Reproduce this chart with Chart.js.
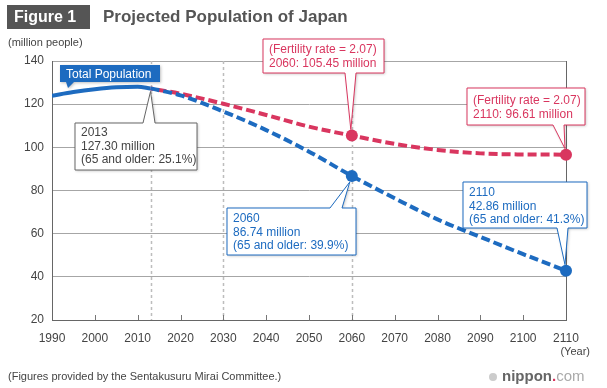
<!DOCTYPE html>
<html>
<head>
<meta charset="utf-8">
<script src="https://cdn.jsdelivr.net/npm/chart.js@4/dist/chart.umd.min.js"></script>
<style>
  html, body { margin: 0; padding: 0; background: #fff; }
  #wrap { width: 607px; height: 388px; position: relative; }
</style>
</head>
<body>
<div id="wrap"><canvas id="myChart" width="607" height="388"></canvas></div>
<script>
// data (million people)
var obsYears = [1990, 1995, 2000, 2005, 2010, 2013];
var obsPop = [123.9, 125.6, 126.9, 127.8, 128.1, 127.30];
var projYears = [2013, 2020, 2030, 2040, 2050, 2060, 2070, 2080, 2090, 2100, 2110];
var projBase = [127.30, 124.1, 116.6, 108.0, 98.0, 86.74, 76.4, 66.6, 58.5, 50.5, 42.86];
var projFert = [127.30, 124.8, 120.2, 115.0, 109.6, 105.45, 101.6, 98.8, 97.2, 96.7, 96.61];
var markedYears = [2013, 2030, 2060];
var yTicks = [20, 40, 60, 80, 100, 120, 140];

var BLUE = '#1d6bc0';
var RED = '#d9365f';
var FONT = '"Liberation Sans", Arial, sans-serif';

function pts(xs, ys) {
    var out = [];
    for (var i = 0; i < xs.length; i++) {
        out.push({x: xs[i], y: ys[i]});
    }
    return out;
}

function dotRadius(c) {
    if (c.raw && (c.raw.x === 2060 || c.raw.x === 2110)) return 6;
    return 0;
}

// callout box with a pointer tail
function callout(ctx, b, o) {
    ctx.save();
    ctx.beginPath();
    if (o.side === 'top') {
        ctx.moveTo(b.l, b.t);
        ctx.lineTo(o.t1, b.t);
        ctx.lineTo(o.tip.x, o.tip.y);
        ctx.lineTo(o.t2, b.t);
        ctx.lineTo(b.r, b.t);
        ctx.lineTo(b.r, b.b);
        ctx.lineTo(b.l, b.b);
    } else {
        ctx.moveTo(b.l, b.t);
        ctx.lineTo(b.r, b.t);
        ctx.lineTo(b.r, b.b);
        ctx.lineTo(o.t2, b.b);
        ctx.lineTo(o.tip.x, o.tip.y);
        ctx.lineTo(o.t1, b.b);
        ctx.lineTo(b.l, b.b);
    }
    ctx.closePath();
    ctx.shadowColor = 'rgba(0,0,0,0.25)';
    ctx.shadowBlur = 3;
    ctx.shadowOffsetX = 1;
    ctx.shadowOffsetY = 1;
    ctx.fillStyle = o.fill || '#fff';
    ctx.fill();
    ctx.shadowColor = 'transparent';
    if (o.stroke) {
        ctx.strokeStyle = o.stroke;
        ctx.lineWidth = 1;
        ctx.stroke();
    }
    ctx.fillStyle = o.color;
    ctx.font = (o.bold ? 'bold ' : '') + (o.size || 12) + 'px ' + FONT;
    ctx.textBaseline = 'alphabetic';
    ctx.textAlign = 'left';
    for (var i = 0; i < o.lines.length; i++) {
        ctx.fillText(o.lines[i], b.l + 6, b.t + o.first + i * 13.5);
    }
    ctx.restore();
}

var decor = {
    id: 'decor',
    beforeDatasetsDraw: function(chart) {
        var ctx = chart.ctx, xs = chart.scales.x, a = chart.chartArea;
        ctx.save();
        // dotted year markers
        ctx.strokeStyle = '#bdbdbd';
        ctx.lineWidth = 1.5;
        ctx.setLineDash([3, 3]);
        markedYears.forEach(function(yr) {
            var px = Math.round(xs.getPixelForValue(yr)) + 0.5;
            ctx.beginPath();
            ctx.moveTo(px, a.top);
            ctx.lineTo(px, a.bottom);
            ctx.stroke();
        });
        ctx.setLineDash([]);
        // inner tick marks
        ctx.strokeStyle = '#777';
        ctx.lineWidth = 1;
        for (var yr = 2000; yr <= 2100; yr += 10) {
            var p = Math.round(xs.getPixelForValue(yr)) + 0.5;
            ctx.beginPath();
            ctx.moveTo(p, a.bottom);
            ctx.lineTo(p, a.bottom - 5);
            ctx.stroke();
        }
        ctx.restore();
    },
    afterDatasetsDraw: function(chart) {
        var ctx = chart.ctx, xs = chart.scales.x, ys = chart.scales.y;
        function P(x, y) { return {x: xs.getPixelForValue(x), y: ys.getPixelForValue(y)}; }

        var p13 = P(2013, 127.30);
        callout(ctx, {l: 75, t: 123, r: 197, b: 170},
            {side: 'top', t1: 143, t2: 155, tip: {x: p13.x, y: p13.y + 3}, stroke: '#666',
             color: '#444', first: 13, lines: ['2013', '127.30 million', '(65 and older: 25.1%)']});

        var pr60 = P(2060, 105.45);
        callout(ctx, {l: 263, t: 39, r: 384, b: 73},
            {side: 'bottom', t1: 345, t2: 356, tip: {x: pr60.x - 1, y: pr60.y - 6}, stroke: RED,
             color: RED, first: 14, lines: ['(Fertility rate = 2.07)', '2060: 105.45 million']});

        var pr110 = P(2110, 96.61);
        callout(ctx, {l: 467, t: 88, r: 585, b: 125},
            {side: 'bottom', t1: 553, t2: 564, tip: {x: pr110.x - 1, y: pr110.y - 6}, stroke: RED,
             color: RED, first: 16, lines: ['(Fertility rate = 2.07)', '2110: 96.61 million']});

        var pb60 = P(2060, 86.74);
        callout(ctx, {l: 227, t: 208, r: 356, b: 255},
            {side: 'top', t1: 330, t2: 342, tip: {x: pb60.x - 2, y: pb60.y + 6}, stroke: BLUE,
             color: BLUE, first: 14, lines: ['2060', '86.74 million', '(65 and older: 39.9%)']});

        var pb110 = P(2110, 42.86);
        callout(ctx, {l: 463, t: 182, r: 587, b: 228},
            {side: 'bottom', t1: 557, t2: 568, tip: {x: pb110.x - 1, y: pb110.y - 6}, stroke: BLUE,
             color: BLUE, first: 14, lines: ['2110', '42.86 million', '(65 and older: 41.3%)']});

        callout(ctx, {l: 60, t: 65, r: 160, b: 82},
            {side: 'bottom', t1: 66, t2: 74, tip: {x: 68, y: 88}, fill: BLUE,
             color: '#fff', first: 13, lines: ['Total Population']});
    },
    afterDraw: function(chart) {
        var ctx = chart.ctx;
        ctx.save();
        // figure tag + title
        ctx.fillStyle = '#555';
        ctx.fillRect(7, 5, 83, 24);
        ctx.fillStyle = '#fff';
        ctx.font = 'bold 16px ' + FONT;
        ctx.textBaseline = 'middle';
        ctx.fillText('Figure 1', 14, 17.5);
        ctx.fillStyle = '#555';
        ctx.font = 'bold 17px ' + FONT;
        ctx.fillText('Projected Population of Japan', 103, 17.5);

        ctx.fillStyle = '#444';
        ctx.font = '11px ' + FONT;
        ctx.fillText('(million people)', 8, 43);
        ctx.fillText('(Figures provided by the Sentakusuru Mirai Committee.)', 8, 377);
        ctx.textAlign = 'right';
        ctx.fillText('(Year)', 590, 352);

        // nippon.com logo
        ctx.textAlign = 'left';
        ctx.fillStyle = '#ccc';
        ctx.beginPath();
        ctx.arc(493, 377, 4, 0, Math.PI * 2);
        ctx.fill();
        ctx.font = 'bold 15px ' + FONT;
        ctx.fillStyle = '#666';
        ctx.fillText('nippon', 502, 377);
        var w = ctx.measureText('nippon').width;
        ctx.fillStyle = RED;
        ctx.fillText('.', 502 + w, 377);
        var w2 = ctx.measureText('.').width;
        ctx.font = '15px ' + FONT;
        ctx.fillStyle = '#aaa';
        ctx.fillText('com', 502 + w + w2, 377);
        ctx.restore();
    }
};

var ctx = document.getElementById('myChart');
var myChart = new Chart(ctx, {
    type: 'line',
    data: {
        datasets: [
            {
                label: 'Total Population',
                data: pts(obsYears, obsPop),
                borderColor: BLUE,
                borderWidth: 4,
                pointRadius: 0,
                fill: false,
                cubicInterpolationMode: 'monotone'
            },
            {
                label: 'Projection',
                data: pts(projYears, projBase),
                borderColor: BLUE,
                backgroundColor: BLUE,
                borderWidth: 4,
                borderDash: [9, 4],
                pointRadius: dotRadius,
                pointBorderWidth: 0,
                fill: false,
                clip: false,
                cubicInterpolationMode: 'monotone'
            },
            {
                label: 'Fertility rate = 2.07',
                data: pts(projYears, projFert),
                borderColor: RED,
                backgroundColor: RED,
                borderWidth: 4,
                borderDash: [9, 4],
                borderDashOffset: 6,
                pointRadius: dotRadius,
                pointBorderWidth: 0,
                fill: false,
                clip: false,
                cubicInterpolationMode: 'monotone'
            }
        ]
    },
    options: {
        responsive: false,
        animation: false,
        layout: { padding: { top: 61, right: 41, left: 0, bottom: 0 } },
        plugins: { legend: { display: false }, tooltip: { enabled: false }, title: { display: false } },
        scales: {
            x: {
                type: 'linear',
                min: 1990,
                max: 2110,
                afterFit: function(s) { s.height = 68; },
                ticks: {
                    stepSize: 10,
                    color: '#444',
                    padding: 11,
                    maxRotation: 0,
                    font: { family: FONT, size: 12 },
                    callback: function(v) { return String(v); }
                },
                grid: {
                    drawTicks: false,
                    color: function(c) { return c.tick && c.tick.value === 2110 ? '#666' : 'rgba(0,0,0,0)'; }
                },
                border: { color: '#666' }
            },
            y: {
                min: 20,
                max: 140,
                afterFit: function(s) { s.width = 52; },
                afterBuildTicks: function(s) { s.ticks = yTicks.map(function(v) { return {value: v}; }); },
                ticks: {
                    color: '#444',
                    padding: 8,
                    font: { family: FONT, size: 12 }
                },
                grid: {
                    drawTicks: false,
                    color: function(c) { return c.tick && c.tick.value === 20 ? '#666' : '#a6a6a6'; }
                },
                border: { color: '#666' }
            }
        }
    },
    plugins: [decor]
});
</script>
</body>
</html>
